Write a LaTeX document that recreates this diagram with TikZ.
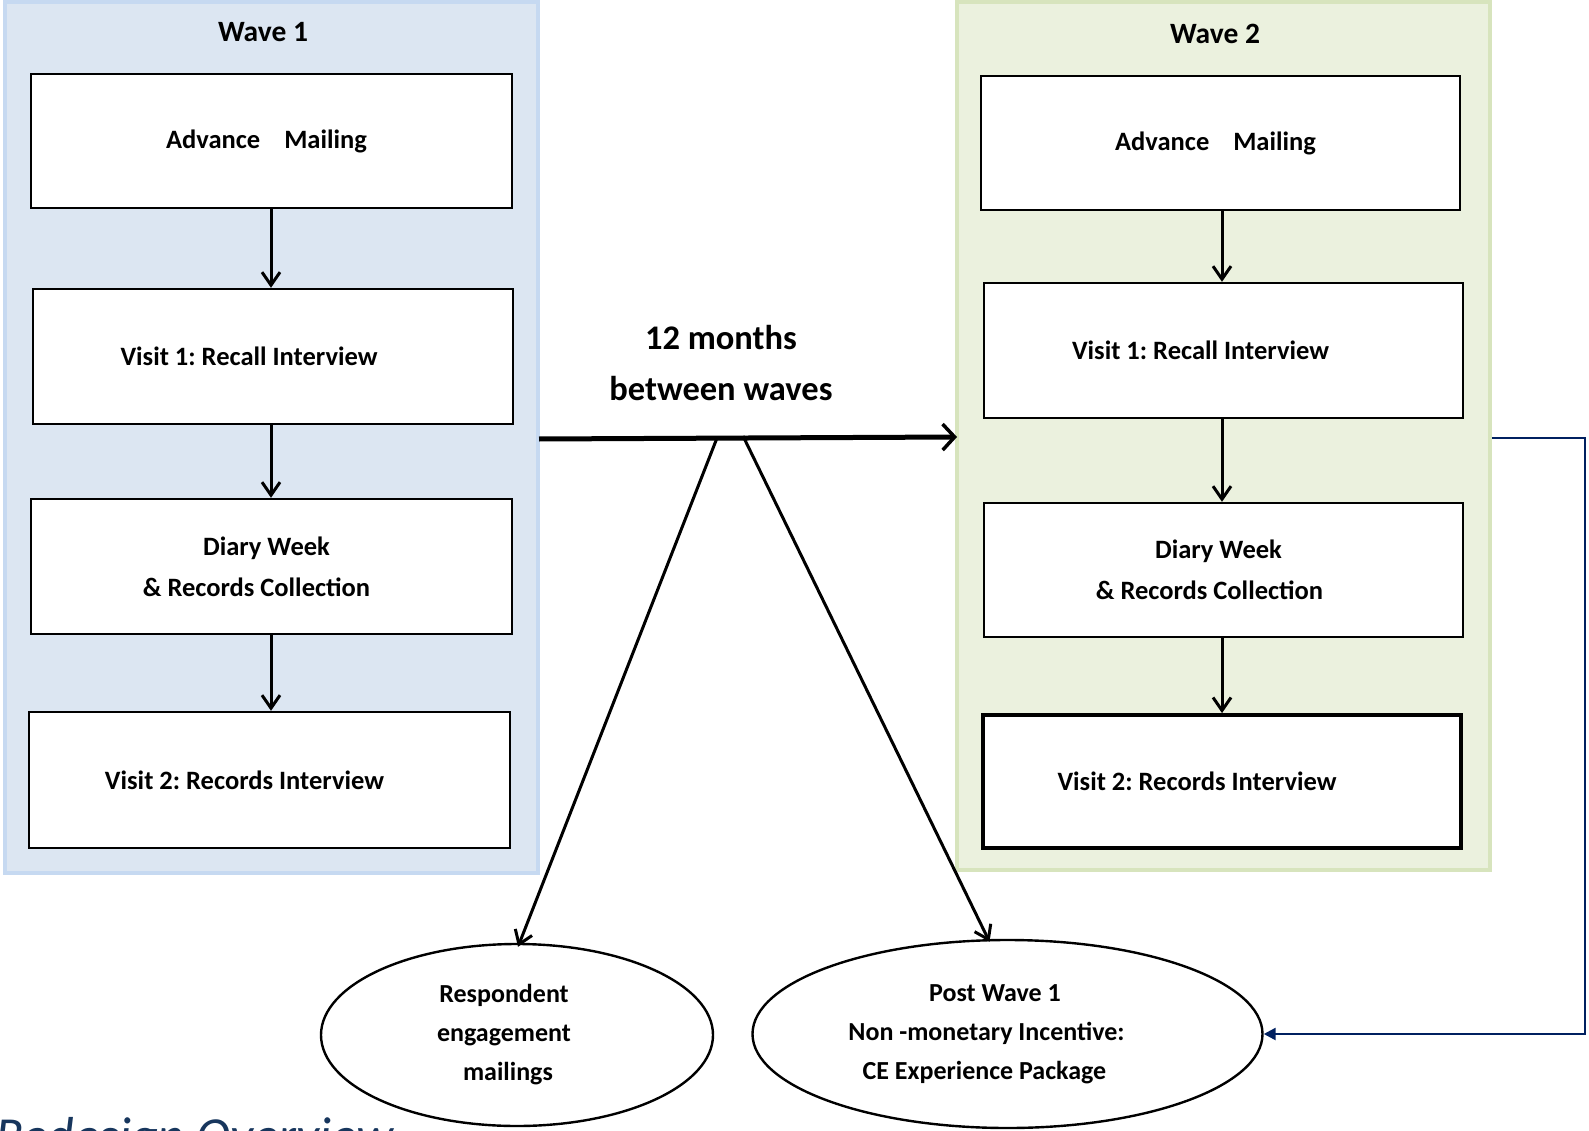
\documentclass[tikz,border=0pt]{standalone}
\usepackage{fontspec}
\setmainfont{Carlito}
\usetikzlibrary{arrows.meta,shapes.geometric}
\definecolor{bluefill}{HTML}{DCE6F2}
\definecolor{blueedge}{HTML}{C6D9F1}
\definecolor{greenfill}{HTML}{EBF1DE}
\definecolor{greenedge}{HTML}{D7E4BD}
\definecolor{navy}{HTML}{002060}
\definecolor{titleblue}{HTML}{17365D}
\frenchspacing
\begin{document}
\begin{tikzpicture}[x=1pt,y=-1pt,
  panel/.style={line width=4pt, inner sep=0pt},
  stagebox/.style={draw=black, line width=2.4pt, fill=white, inner sep=0pt,
    align=center, font=\fontsize{26.5}{41}\selectfont\bfseries},
  oval/.style={draw=black, line width=2.4pt, ellipse, inner sep=0pt,
    align=center, font=\fontsize{26}{39}\selectfont\bfseries},
  wavetitle/.style={font=\fontsize{29.5}{30}\selectfont\bfseries, inner sep=0pt},
  gaplabel/.style={font=\fontsize{34.5}{51}\selectfont\bfseries, align=center, inner sep=0pt},
  flow/.style={line width=3pt, -{Straight Barb[length=13pt,width=18pt,line width=3pt]}},
  mainflow/.style={line width=5pt, -{Straight Barb[length=12pt,width=26pt,line width=3.5pt]}},
  backflow/.style={draw=navy, line width=2.5pt, -{Triangle[length=12pt,width=12pt]}}
]
\useasboundingbox (0,0) rectangle (1589,1131);
\clip (0,0) rectangle (1589,1131);

% panels
\node[panel, draw=blueedge, fill=bluefill, minimum width=533pt, minimum height=871pt] (W1) at (271.5,437.5) {};
\node[panel, draw=greenedge, fill=greenfill, minimum width=533pt, minimum height=868pt] (W2) at (1223.5,436) {};

\node[wavetitle] (T1) at (263,32) {Wave 1};
\node[wavetitle] (T2) at (1215,34) {Wave 2};

% wave 1 boxes
\node[stagebox, minimum width=481pt, minimum height=134pt] (A1) at (271.5,141) {\hspace*{-10pt}Advance\hspace{24pt}Mailing};
\node[stagebox, minimum width=480pt, minimum height=135pt] (A2) at (273,356.5) {\hspace*{-48pt}Visit 1: Recall Interview};
\node[stagebox, minimum width=481pt, minimum height=135pt] (A3) at (271.5,566.5) {\hspace*{-10pt}Diary Week\\\hspace*{-30pt}\& Records Collection};
\node[stagebox, minimum width=481pt, minimum height=136pt] (A4) at (269.5,780) {\hspace*{-50pt}Visit 2: Records Interview};

% wave 2 boxes
\node[stagebox, minimum width=479pt, minimum height=134pt] (B1) at (1220.5,143) {\hspace*{-10pt}Advance\hspace{24pt}Mailing};
\node[stagebox, minimum width=479pt, minimum height=135pt] (B2) at (1223.5,350.5) {\hspace*{-46pt}Visit 1: Recall Interview};
\node[stagebox, minimum width=479pt, minimum height=134pt] (B3) at (1223.5,570) {\hspace*{-10pt}Diary Week\\\hspace*{-28pt}\& Records Collection};
\node[stagebox, line width=3.8pt, minimum width=478pt, minimum height=133pt] (B4) at (1222,781.5) {\hspace*{-50pt}Visit 2: Records Interview};

% ellipses
\node[oval, minimum width=392pt, minimum height=182pt] (E1) at (517,1035) {\hspace*{-26pt}Respondent\\\hspace*{-26pt}engagement\\\hspace*{-18pt}mailings};
\node[oval, minimum width=510pt, minimum height=188pt] (E2) at (1007.5,1034) {\hspace*{-25pt}Post Wave 1\\\hspace*{-42pt}Non -monetary Incentive:\\\hspace*{-46pt}CE Experience Package};

% label between waves
\node[gaplabel] (G) at (721,363) {12 months\\between waves};

% vertical flows
\draw[flow] (A1.south -| 271,0) -- (271,0 |- A2.north);
\draw[flow] (A2.south -| 271,0) -- (271,0 |- A3.north);
\draw[flow] (A3.south -| 271,0) -- (271,0 |- A4.north);
\draw[flow] (B1.south -| 1222,0) -- (1222,0 |- B2.north);
\draw[flow] (B2.south -| 1222,0) -- (1222,0 |- B3.north);
\draw[flow] (B3.south -| 1222,0) -- (1222,0 |- B4.north);

% main arrow between waves
\coordinate (m1) at (539,439);
\coordinate (m2) at (957,437);
\draw[mainflow] (m1) -- (m2);

% branches
\coordinate (d1) at (717,438);
\coordinate (d2) at (743,436);
\draw[flow] (d1) -- ([xshift=1pt,yshift=-4pt]E1.north);
\draw[flow] (d2) -- ([xshift=-18pt,yshift=-3pt]E2.north);

% feedback connector
\draw[backflow] (W2.east |- 0,438) -- (1585,438) |- (E2.east);

% cut-off title
\node[anchor=base west, inner sep=0pt, text=titleblue, font=\fontsize{52}{60}\selectfont\itshape] (RT) at (-5,1153) {Redesign Overview};
\end{tikzpicture}
\end{document}
